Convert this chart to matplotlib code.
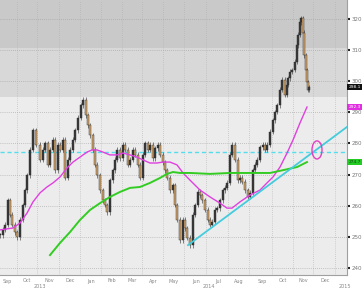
import matplotlib
matplotlib.use("Agg")
import matplotlib.pyplot as plt
from matplotlib.patches import Ellipse
import matplotlib.transforms as mtransforms

# ---- data (trading-day index, price) ----
days = [0, 3, 5, 8, 10, 12, 15, 17, 20, 23, 25, 27, 30, 33, 36, 40, 43, 45, 48, 50,
        53, 55, 58, 60, 63, 65, 68, 70, 73, 75, 78, 81, 83, 86, 88, 90, 93, 95, 97, 100,
        103, 105, 107, 110, 113, 115, 117, 120, 123, 125, 128, 130, 133, 135, 138, 140,
        143, 145, 148, 150, 153, 155, 158, 160, 163, 165, 167, 170, 173, 175, 177, 180,
        183, 185, 187, 190, 193, 195, 198, 200, 202, 205, 208, 210, 212, 215, 217, 220,
        223, 225, 227, 230, 232, 235, 238, 240, 242, 245, 248, 250, 253, 255, 257, 260,
        263, 265, 267, 270, 273, 275, 277, 280, 282, 285, 287, 288, 290, 292, 295, 297,
        298, 300, 301, 303, 304, 306, 307, 308, 309]
closes = [250.5, 252.2, 253.8, 261.8, 257.0, 253.8, 251.5, 249.9, 255.4, 260.2, 265.0,
          269.8, 277.9, 284.3, 279.5, 274.7, 277.9, 280.1, 273.1, 277.9, 281.1, 271.4,
          279.5, 277.9, 281.1, 268.9, 274.7, 277.9, 281.1, 284.3, 288.2, 292.3, 294.0,
          289.1, 285.9, 282.7, 277.9, 273.1, 269.8, 265.0, 261.8, 260.2, 257.9, 268.2,
          271.4, 274.7, 277.9, 275.3, 279.5, 277.9, 273.1, 274.7, 277.9, 276.3, 273.1,
          268.9, 276.3, 280.1, 277.9, 279.5, 275.3, 278.5, 279.5, 276.3, 274.0, 271.4,
          268.9, 265.0, 266.6, 260.2, 255.4, 248.9, 255.4, 252.8, 249.6, 247.3, 257.0,
          260.2, 264.4, 263.4, 261.8, 258.6, 255.4, 253.8, 254.8, 258.6, 259.2, 261.8,
          265.0, 265.7, 267.3, 276.3, 279.5, 274.7, 268.2, 268.9, 267.6, 265.0, 262.8,
          264.1, 271.4, 273.1, 274.7, 278.8, 279.5, 277.9, 279.5, 283.7, 287.5, 290.1,
          292.3, 297.2, 300.4, 295.6, 298.8, 301.0, 303.0, 303.6, 306.2, 311.6, 314.9,
          319.0, 320.3, 315.5, 308.4, 303.6, 299.7, 297.2, 298.1]

ma_fast_days = [0, 13, 20, 27, 33, 40, 47, 53, 60, 67, 73, 80, 87, 92, 97, 103, 110, 117,
                123, 130, 137, 143, 150, 157, 163, 170, 177, 183, 190, 200, 210, 220, 227,
                232, 240, 250, 260, 267, 273, 280, 287, 293, 300, 307]
ma_fast = [252.2, 252.8, 254.4, 257.6, 261.2, 264.1, 266.0, 267.3, 269.2, 272.1, 274.0,
           275.6, 277.2, 277.9, 277.9, 277.2, 276.3, 276.3, 276.9, 276.3, 275.6, 274.7,
           273.7, 273.7, 274.0, 274.0, 273.1, 270.5, 268.2, 265.0, 262.8, 260.8, 259.2,
           259.2, 261.2, 263.4, 265.0, 267.3, 269.2, 272.4, 276.9, 281.1, 286.6, 291.7]

ma_slow_days = [50, 60, 70, 80, 90, 100, 110, 120, 130, 140, 150, 160, 167, 173, 180, 190,
                210, 230, 250, 270, 283, 297, 307]
ma_slow = [244.1, 248.0, 251.5, 255.4, 258.6, 260.8, 262.8, 264.4, 265.7, 266.0, 267.3,
           268.9, 270.2, 270.8, 270.5, 270.5, 270.2, 270.5, 270.5, 270.5, 271.4, 272.4, 274.0]

resistance_level = 277.2
trend_days = [188, 347]
trend_prices = [247.3, 285.3]
circle_day, circle_price = 317, 277.9

month_labels = ["Sep", "Oct", "Nov", "Dec", "Jan", "Feb", "Mar", "Apr", "May", "Jun",
                "Jul", "Aug", "Sep", "Oct", "Nov", "Dec"]
month_pos = [7, 27, 49, 70, 91, 112, 132, 153, 174, 196, 218, 239, 262, 283, 303, 325]
year_labels = ["2013", "2014", "2015"]
year_pos = [40, 209, 345]
yticks = [240, 250, 260, 270, 280, 290, 300, 310, 320]

last_label = "298.1"
fast_label = "292.3"
slow_label = "274.7"

# ---- figure ----
W, H = 362, 289
fig = plt.figure(figsize=(W / 100, H / 100), dpi=100)
fig.patch.set_facecolor("white")
ax = fig.add_axes([0, 14 / H, 347 / W, 275 / H])
ax.set_xlim(0, 347)
ax.set_ylim(237.7, 326.1)
ax.set_facecolor("#ececec")
ax.axhspan(310.7, 330, color="#c9c9c9", zorder=0, lw=0)
ax.axhspan(294.9, 310.7, color="#d8d8d8", zorder=0, lw=0)

# grid
for t in yticks:
    ax.axhline(t, color="#9a9a9a", lw=0.5, ls=(0, (1, 2)), zorder=1)
for p in month_pos:
    ax.axvline(p + 10, color="#b0b0b0", lw=0.5, ls=(0, (1, 2)), zorder=1)

# candles (open = previous close)
opens = [closes[0]] + closes[:-1]
for d, o, c in zip(days, opens, closes):
    lo, hi = min(o, c), max(o, c)
    col = "#3a3a3a" if c >= o else "#d4a468"
    ax.bar(d, max(hi - lo, 0.4), bottom=lo, width=1.7, color=col,
           edgecolor="#2a2a2a", linewidth=0.3, zorder=4)
    ax.vlines(d, lo - 0.8, hi + 0.8, color="#2a2a2a", lw=0.4, zorder=3)

ax.plot(ma_fast_days, ma_fast, color="#e040e0", lw=1.0, zorder=5)
ax.plot(ma_slow_days, ma_slow, color="#33cc22", lw=1.4, zorder=5)
ax.axhline(resistance_level, color="#55ddee", lw=1.0, ls=(0, (3, 2)), zorder=2)
ax.plot(trend_days, trend_prices, color="#44ccdd", lw=1.3, zorder=5)
ax.add_patch(Ellipse((circle_day, circle_price), 10, 5.8, fill=False,
                     edgecolor="#e040c0", lw=1.0, zorder=6))

# axes styling
for s in ["top", "left"]:
    ax.spines[s].set_visible(False)
ax.spines["right"].set_color("#a0a0a0")
ax.spines["bottom"].set_color("#a0a0a0")
ax.spines["right"].set_linewidth(0.8)
ax.spines["bottom"].set_linewidth(0.8)
ax.yaxis.tick_right()
ax.set_yticks(yticks)
ax.set_yticklabels([str(t) for t in yticks])
ax.tick_params(axis="y", length=2, width=1.5, color="#222222", labelsize=4,
               labelcolor="#777777", pad=1)
ax.set_xticks([])

for lab, p in zip(month_labels, month_pos):
    fig.text(p / W, 1 - 281 / H, lab, fontsize=3.5, color="#888888",
             ha="center", va="center")
for lab, p in zip(year_labels, year_pos):
    fig.text(p / W, 1 - 286.5 / H, lab, fontsize=3.5, color="#888888",
             ha="center", va="center")

# right-side value labels
ytrans = mtransforms.blended_transform_factory(ax.transAxes, ax.transData)
for lab, val, fc, tc in [(last_label, closes[-1], "#111111", "white"),
                         (fast_label, ma_fast[-1], "#e030e0", "white"),
                         (slow_label, ma_slow[-1], "#22cc22", "#114411")]:
    ax.text(1.004, val, lab, transform=ytrans, fontsize=3.2, color=tc,
            ha="left", va="center", zorder=10, clip_on=False,
            bbox=dict(boxstyle="square,pad=0.2", fc=fc, ec="none"))

fig.savefig("out.png", dpi=100, facecolor="white")
